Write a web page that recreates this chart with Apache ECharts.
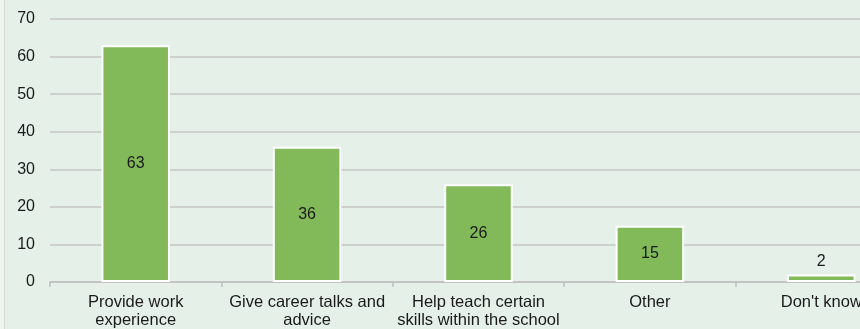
<!DOCTYPE html>
<html>
<head>
<meta charset="utf-8">
<script src="https://cdn.jsdelivr.net/npm/echarts@6/dist/echarts.min.js"></script>
<style>
  html, body { margin: 0; padding: 0; background: #e5f1e8; overflow: hidden; }
  /* the plot runs past the right edge of the window, so the last column is cut off */
  #chart { width: 910px; height: 329px; }
</style>
</head>
<body>
<div id="chart"></div>
<script>
// Ways employers support schools (% of respondents)
const categories = [
  'Provide work\nexperience',
  'Give career talks and\nadvice',
  'Help teach certain\nskills within the school',
  'Other',
  "Don't know"
];
const values = [63, 36, 26, 15, 2];
const yTicks = { min: 0, max: 70, interval: 10 };

const chart = echarts.init(document.getElementById('chart'), null, { renderer: 'canvas' });

const seriesData = values.map(v => ({
  value: v,
  label: { position: v < 5 ? 'top' : 'inside' }
}));

chart.setOption({
  backgroundColor: '#e5f1e8',
  animation: false,
  textStyle: { fontFamily: 'Liberation Sans, Arial, sans-serif' },
  grid: { left: 50, top: 19, right: 3, height: 264, containLabel: false },
  graphic: [{
    type: 'rect',
    shape: { x: 0, y: 0, width: 4, height: 329 },
    style: { fill: '#edf5ef', stroke: null }
  }, {
    type: 'line',
    shape: { x1: 4.5, y1: 0, x2: 4.5, y2: 329 },
    style: { stroke: '#d6ddd8', lineWidth: 1 }
  }],
  xAxis: {
    type: 'category',
    data: categories,
    axisLine: { lineStyle: { color: '#bfbfbf', width: 1.5 } },
    axisTick: { show: true, length: 5, lineStyle: { color: '#bfbfbf', width: 1.5 } },
    axisLabel: {
      color: '#1a1a1a', fontSize: 16.5, lineHeight: 18, margin: 11,
      interval: 0
    }
  },
  yAxis: {
    type: 'value',
    min: yTicks.min, max: yTicks.max, interval: yTicks.interval,
    axisLine: { show: false },
    axisTick: { show: false },
    axisLabel: { color: '#1a1a1a', fontSize: 16, margin: 15 },
    splitLine: { lineStyle: { color: '#c4c4c4', width: 1.5 } }
  },
  series: [{
    type: 'bar',
    data: seriesData,
    barWidth: '40%',
    itemStyle: { color: '#82ba5a', borderColor: '#ffffff', borderWidth: 2 },
    label: { show: true, color: '#1a1a1a', fontSize: 16 }
  }]
});
</script>
</body>
</html>
